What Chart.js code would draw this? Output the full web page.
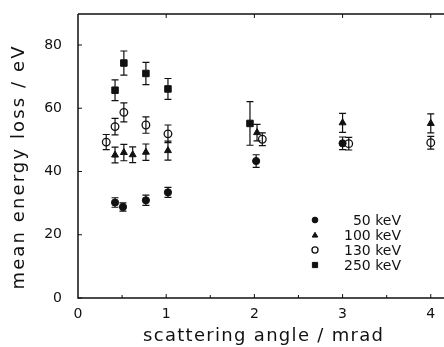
<!DOCTYPE html>
<html>
<head>
<meta charset="utf-8">
<script src="https://cdn.jsdelivr.net/npm/chart.js@4/dist/chart.umd.min.js"></script>
<style>
html,body{margin:0;padding:0;background:#fff;overflow:hidden;}
#wrap{position:relative;width:444px;height:347px;}
canvas{display:block;}
</style>
</head>
<body>
<div id="wrap"><canvas id="c" width="444" height="347"></canvas></div>
<script>
// ---- data ----
const seriesLabels = ["50 keV", "100 keV", "130 keV", "250 keV"];

const x50  = [0.42, 0.51, 0.77, 1.02, 2.02, 3.00];
const y50  = [30.2, 28.8, 30.9, 33.4, 43.3, 48.9];
const e50  = [1.5, 1.3, 1.6, 1.6, 2.0, 2.0];

const x100 = [0.42, 0.52, 0.62, 0.77, 1.02, 2.03, 3.00, 4.00];
const y100 = [45.2, 46.0, 45.3, 46.1, 46.6, 52.3, 55.4, 55.2];
const e100 = [2.5, 2.6, 2.5, 2.6, 3.0, 2.6, 3.0, 3.0];

const x130 = [0.32, 0.42, 0.52, 0.77, 1.02, 2.09, 3.07, 4.00];
const y130 = [49.3, 54.2, 58.7, 54.7, 51.9, 50.2, 48.8, 49.1];
const e130 = [2.4, 2.6, 3.0, 2.6, 2.8, 2.0, 2.0, 2.0];

const x250 = [0.42, 0.52, 0.77, 1.02, 1.95];
const y250 = [65.7, 74.3, 71.0, 66.1, 55.2];
const e250 = [3.3, 3.8, 3.5, 3.3, 6.9];

const xTicks = [0, 1, 2, 3, 4];
const yTicks = [0, 20, 40, 60, 80];
const xTitle = "scattering angle / mrad";
const yTitle = "mean energy loss / eV";

// ---- build datasets ----
function pts(xs, ys, es) { return xs.map((x, i) => ({x: x, y: ys[i], err: es[i]})); }
const INK = "#111";
const datasets = [
  {label: seriesLabels[0], data: pts(x50, y50, e50), pointStyle: "circle", pointRadius: 3.6, backgroundColor: INK, borderColor: INK, borderWidth: 1},
  {label: seriesLabels[1], data: pts(x100, y100, e100), pointStyle: "triangle", pointRadius: 4, backgroundColor: INK, borderColor: INK, borderWidth: 1},
  {label: seriesLabels[2], data: pts(x130, y130, e130), pointStyle: "circle", pointRadius: 3.8, backgroundColor: "rgba(0,0,0,0)", borderColor: INK, borderWidth: 1.3},
  {label: seriesLabels[3], data: pts(x250, y250, e250), pointStyle: "rect", pointRadius: 4.6, backgroundColor: INK, borderColor: INK, borderWidth: 1}
];

const FONT = "'DejaVu Sans', sans-serif";

// stretch plot area to the right canvas edge, as in the reference
const stretchRight = {
  id: "stretchRight",
  afterLayout(chart) {
    const xs = chart.scales.x;
    chart.chartArea.right = chart.width;
    chart.chartArea.width = chart.chartArea.right - chart.chartArea.left;
    xs.right = chart.width;
    xs.width = xs.right - xs.left;
    xs.configure();
  }
};

const errorBars = {
  id: "errorBars",
  beforeDatasetsDraw(chart) {
    const ctx = chart.ctx, xs = chart.scales.x, ys = chart.scales.y;
    ctx.save();
    ctx.strokeStyle = INK;
    ctx.lineWidth = 1.2;
    chart.data.datasets.forEach(ds => {
      ds.data.forEach(p => {
        const px = xs.getPixelForValue(p.x);
        const top = ys.getPixelForValue(p.y + p.err);
        const bot = ys.getPixelForValue(p.y - p.err);
        ctx.beginPath();
        ctx.moveTo(px, top); ctx.lineTo(px, bot);
        ctx.moveTo(px - 3.5, top); ctx.lineTo(px + 3.5, top);
        ctx.moveTo(px - 3.5, bot); ctx.lineTo(px + 3.5, bot);
        ctx.stroke();
      });
    });
    ctx.restore();
  }
};

function spacedText(ctx, text, cx, cy, targetWidth) {
  ctx.letterSpacing = "0px";
  const w = ctx.measureText(text).width;
  const sp = (targetWidth - w) / Math.max(1, text.length - 1);
  ctx.letterSpacing = sp + "px";
  ctx.textAlign = "left";
  ctx.fillText(text, cx - targetWidth / 2, cy);
  ctx.letterSpacing = "0px";
}

const frame = {
  id: "frame",
  afterDraw(chart) {
    const ctx = chart.ctx, a = chart.chartArea, xs = chart.scales.x, ys = chart.scales.y;
    ctx.save();
    ctx.strokeStyle = INK;
    ctx.lineWidth = 1.5;
    ctx.beginPath();
    ctx.moveTo(a.left, a.top); ctx.lineTo(a.right, a.top);
    ctx.moveTo(a.left, a.top); ctx.lineTo(a.left, a.bottom); ctx.lineTo(a.right, a.bottom);
    ctx.stroke();
    ctx.lineWidth = 1;
    ctx.beginPath();
    for (let v = 0.5; v <= xs.max; v += 0.5) {
      const px = xs.getPixelForValue(v);
      const major = Math.abs(v - Math.round(v)) < 1e-6;
      ctx.moveTo(px, a.bottom); ctx.lineTo(px, a.bottom - (major ? 4 : 3));
      if (major) { ctx.moveTo(px, a.top); ctx.lineTo(px, a.top + 4); }
    }
    yTicks.forEach(v => {
      const py = ys.getPixelForValue(v);
      ctx.moveTo(a.left, py); ctx.lineTo(a.left + 4, py);
    });
    ctx.stroke();

    // axis titles
    ctx.fillStyle = INK;
    ctx.textBaseline = "middle";
    ctx.font = "18px " + FONT;
    spacedText(ctx, xTitle, 263, 336, 240);
    ctx.save();
    ctx.translate(19, 168);
    ctx.rotate(-Math.PI / 2);
    spacedText(ctx, yTitle, 0, 0, 243);
    ctx.restore();

    // legend in lower right
    const rowY = [220, 235.5, 250, 265];
    ctx.font = "14px " + FONT;
    ctx.textAlign = "right";
    ctx.textBaseline = "middle";
    chart.data.datasets.forEach((ds, i) => {
      const y = rowY[i];
      ctx.save();
      ctx.fillStyle = ds.backgroundColor;
      ctx.strokeStyle = ds.borderColor;
      ctx.lineWidth = ds.borderWidth;
      Chart.helpers.drawPoint(ctx, {pointStyle: ds.pointStyle, radius: ds.pointRadius * 0.8, borderWidth: ds.borderWidth}, 315, y);
      ctx.restore();
      ctx.fillText(ds.label, 401, y + 1);
    });
    ctx.restore();
  }
};

new Chart(document.getElementById("c"), {
  type: "scatter",
  data: {datasets: datasets},
  options: {
    responsive: false,
    animation: false,
    devicePixelRatio: 1,
    layout: {padding: {top: 14, right: 0, left: 0, bottom: 0}},
    plugins: {legend: {display: false}, tooltip: {enabled: false}},
    scales: {
      x: {
        type: "linear", min: 0, max: 4.15,
        afterBuildTicks: s => { s.ticks = xTicks.map(v => ({value: v})); },
        afterFit: s => { s.height = 49; s.paddingLeft = 0; s.paddingRight = 0; },
        grid: {display: false},
        border: {display: false},
        ticks: {font: {family: FONT, size: 14}, color: INK, padding: 0, maxRotation: 0},
        title: {display: false}
      },
      y: {
        type: "linear", min: 0, max: 89.8,
        afterBuildTicks: s => { s.ticks = yTicks.map(v => ({value: v})); },
        afterFit: s => { s.width = 78; s.paddingTop = 0; s.paddingBottom = 0; },
        grid: {display: false},
        border: {display: false},
        ticks: {font: {family: FONT, size: 14}, color: INK, padding: 8},
        title: {display: false}
      }
    }
  },
  plugins: [stretchRight, errorBars, frame]
});
</script>
</body>
</html>
